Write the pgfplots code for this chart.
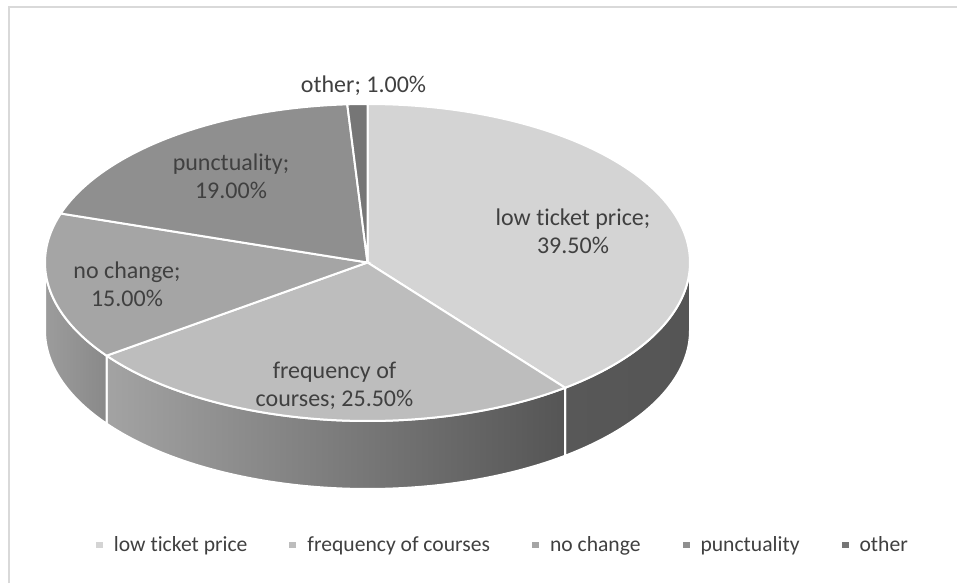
\documentclass[border=0pt]{standalone}
\usepackage{pgfplots}
\pgfplotsset{compat=1.18}
\usepackage{pgfplotstable}
\usepgfplotslibrary{fillbetween}
\usepackage{fontspec}
\setmainfont{Carlito}[Ligatures={NoCommon,NoContextual}]
\newcommand\ticket{t\kern0pt icket}

\definecolor{cA}{HTML}{D4D4D4}
\definecolor{cB}{HTML}{BDBDBD}
\definecolor{cC}{HTML}{A5A5A5}
\definecolor{cD}{HTML}{8F8F8F}
\definecolor{cE}{HTML}{767676}
\definecolor{sAl}{HTML}{585858}
\definecolor{sAr}{HTML}{555555}
\definecolor{sBl}{HTML}{A3A3A3}
\definecolor{sBm}{HTML}{6C6C6C}
\definecolor{sBr}{HTML}{555555}
\definecolor{sCl}{HTML}{9C9C9C}
\definecolor{sCr}{HTML}{898989}
\definecolor{txt}{HTML}{404040}
\definecolor{framec}{HTML}{D9D9D9}

\pgfplotstableread[col sep=comma]{
label,value
low ticket price,39.5
frequency of courses,25.5
no change,15
punctuality,19
other,1
}\piedata

\pgfplotstablegetelem{0}{value}\of\piedata\let\vA\pgfplotsretval
\pgfplotstablegetelem{1}{value}\of\piedata\let\vB\pgfplotsretval
\pgfplotstablegetelem{2}{value}\of\piedata\let\vC\pgfplotsretval
\pgfplotstablegetelem{3}{value}\of\piedata\let\vD\pgfplotsretval
\pgfplotstablegetelem{4}{value}\of\piedata\let\vE\pgfplotsretval

\pgfmathsetmacro\aO{90}
\pgfmathsetmacro\aA{\aO-3.6*\vA}
\pgfmathsetmacro\aB{\aA-3.6*\vB}
\pgfmathsetmacro\aC{\aB-3.6*\vC}
\pgfmathsetmacro\aD{\aC-3.6*\vD}
\pgfmathsetmacro\aE{\aD-3.6*\vE}

\def\cx{367.5}
\def\cy{320.5}
\def\rx{322.5}
\def\ry{158.5}
\def\dep{68}

\begin{document}
\begin{tikzpicture}
\begin{axis}[
  scale only axis, width=717.75pt, height=437.25pt,
  xmin=0, xmax=957, ymin=0, ymax=583,
  axis lines=none, clip=false,
  legend columns=-1,
  legend image code/.code={\fill[#1,draw=none] (0pt,-2.6pt) rectangle (5.25pt,2.6pt);},
  legend style={at={(0.1003,0.0652)}, anchor=west, draw=none, fill=none,
    inner sep=0pt, outer sep=0pt,
    font=\fontsize{16.2}{19}\selectfont, text=txt,
    nodes={inner sep=0pt},
    /tikz/every odd column/.append style={column sep=8.25pt},
    /tikz/every even column/.append style={column sep=31.5pt}},
]
\coordinate (BL) at (axis cs:0,0);
\coordinate (TR) at (axis cs:957,583);

% ---- side faces (front half only) ----
\addplot[name path=At, draw=none, forget plot, domain=\aA:0, samples=60] ({\cx+\rx*cos(x)},{\cy+\ry*sin(x)});
\addplot[name path=Ab, draw=none, forget plot, domain=\aA:0, samples=60] ({\cx+\rx*cos(x)},{\cy-\dep+\ry*sin(x)});
\addplot[left color=sAl, right color=sAr, draw=white, line width=1.5pt, forget plot] fill between[of=At and Ab];

\addplot[name path=Bt, draw=none, forget plot, domain=\aB:\aA, samples=80] ({\cx+\rx*cos(x)},{\cy+\ry*sin(x)});
\addplot[name path=Bb, draw=none, forget plot, domain=\aB:\aA, samples=80] ({\cx+\rx*cos(x)},{\cy-\dep+\ry*sin(x)});
\addplot[left color=sBl, middle color=sBm, right color=sBr, draw=white, line width=1.5pt, forget plot] fill between[of=Bt and Bb];

\addplot[name path=Ct, draw=none, forget plot, domain=-180:\aB, samples=40] ({\cx+\rx*cos(x)},{\cy+\ry*sin(x)});
\addplot[name path=Cb, draw=none, forget plot, domain=-180:\aB, samples=40] ({\cx+\rx*cos(x)},{\cy-\dep+\ry*sin(x)});
\addplot[left color=sCl, right color=sCr, draw=white, line width=1.5pt, forget plot] fill between[of=Ct and Cb];

% ---- top wedges ----
\addplot[fill=cA, draw=white, line width=1.5pt, domain=\aA:\aO, samples=100] ({\cx+\rx*cos(x)},{\cy+\ry*sin(x)}) -- (axis cs:\cx,\cy) -- cycle;
\addlegendentry{low \ticket\ price}
\addplot[fill=cB, draw=white, line width=1.5pt, domain=\aB:\aA, samples=80] ({\cx+\rx*cos(x)},{\cy+\ry*sin(x)}) -- (axis cs:\cx,\cy) -- cycle;
\addlegendentry{frequency of courses}
\addplot[fill=cC, draw=white, line width=1.5pt, domain=\aC:\aB, samples=50] ({\cx+\rx*cos(x)},{\cy+\ry*sin(x)}) -- (axis cs:\cx,\cy) -- cycle;
\addlegendentry{no change}
\addplot[fill=cD, draw=white, line width=1.5pt, domain=\aD:\aC, samples=60] ({\cx+\rx*cos(x)},{\cy+\ry*sin(x)}) -- (axis cs:\cx,\cy) -- cycle;
\addlegendentry{punctuality}
\addplot[fill=cE, draw=white, line width=1.5pt, domain=\aE:\aD, samples=10] ({\cx+\rx*cos(x)},{\cy+\ry*sin(x)}) -- (axis cs:\cx,\cy) -- cycle;
\addlegendentry{other}

% ---- data labels ----
\begin{scope}[every node/.style={align=center, text=txt, font=\fontsize{18}{21}\selectfont}]
\node at (axis cs:573,352) {low \ticket\ price;\\39.50\%};
\node at (axis cs:334.5,197) {frequency of\\courses; 25.50\%};
\node at (axis cs:127,299) {no change;\\15.00\%};
\node at (axis cs:231,406.5) {punctuality;\\19.00\%};
\node at (axis cs:363.5,497) {other; 1.00\%};
\end{scope}

% ---- chart frame (top and left edges visible) ----
\draw[framec, line width=1.5pt] (axis cs:8.5,0) -- (axis cs:8.5,576) -- (axis cs:957,576);
\end{axis}
\pgfresetboundingbox
\path (BL) rectangle (TR);
\end{tikzpicture}
\end{document}
